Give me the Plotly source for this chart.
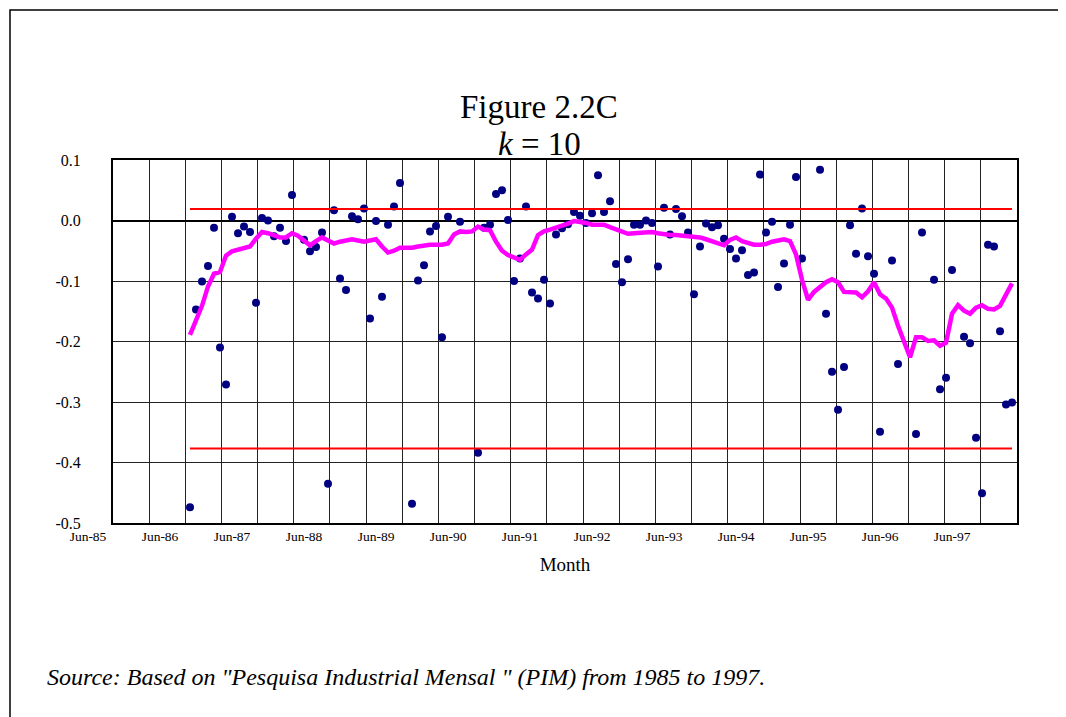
import plotly.graph_objects as go

# ---------------- data ----------------
first_month = 17  # month index counted from Jun-85 (0 = Jun-85)

dot_values = [
    -0.474, -0.147, -0.101, -0.075, -0.012, -0.210, -0.271, 0.006, -0.021, -0.010,
    -0.019, -0.136, 0.004, 0.000, -0.026, -0.012, -0.034, 0.042, None, -0.032,
    -0.051, -0.044, -0.020, -0.435, 0.017, -0.096, -0.115, 0.007, 0.002, 0.020,
    -0.162, -0.001, -0.126, -0.007, 0.023, 0.062, None, -0.468, -0.099, -0.074,
    -0.018, -0.009, -0.193, 0.006, None, -0.002, None, None, -0.384, -0.012,
    -0.007, 0.044, 0.050, 0.001, -0.100, -0.063, 0.023, -0.119, -0.129, -0.098,
    -0.137, -0.023, -0.013, -0.006, 0.014, 0.008, -0.004, 0.012, 0.075, 0.014,
    0.032, -0.072, -0.102, -0.064, -0.007, -0.007, 0.000, -0.004, -0.076, 0.021,
    -0.023, 0.019, 0.007, -0.020, -0.122, -0.043, -0.005, -0.011, -0.008, -0.030,
    -0.047, -0.063, -0.049, -0.090, -0.086, 0.076, -0.020, -0.002, -0.110, -0.071,
    -0.007, 0.072, -0.063, None, None, 0.084, -0.154, -0.250, -0.313, -0.242,
    -0.008, -0.055, 0.020, -0.059, -0.088, -0.349, None, -0.066, -0.237, None,
    None, -0.353, -0.020, None, -0.098, -0.279, -0.260, -0.082, None, -0.192,
    -0.203, -0.359, -0.451, -0.040, -0.043, -0.183, -0.304, -0.301,
]

line_values = [
    -0.189, -0.165, -0.141, -0.109, -0.088, -0.085, -0.058, -0.051, -0.048, -0.045,
    -0.043, -0.030, -0.019, -0.021, -0.025, -0.028, -0.028, -0.021, -0.025, -0.034,
    -0.041, -0.034, -0.028, -0.033, -0.038, -0.035, -0.033, -0.031, -0.033, -0.035,
    -0.033, -0.031, -0.043, -0.053, -0.050, -0.045, -0.045, -0.045, -0.043, -0.041,
    -0.040, -0.040, -0.040, -0.038, -0.023, -0.018, -0.019, -0.018, -0.010, -0.015,
    -0.016, -0.035, -0.050, -0.057, -0.062, -0.065, -0.056, -0.048, -0.024, -0.018,
    -0.015, -0.012, -0.008, -0.005, -0.001, -0.002, -0.004, -0.007, -0.007, -0.007,
    -0.011, -0.015, -0.018, -0.022, -0.021, -0.020, -0.019, -0.019, -0.021, -0.023,
    -0.024, -0.024, -0.025, -0.026, -0.026, -0.028, -0.031, -0.035, -0.038, -0.041,
    -0.032, -0.028, -0.034, -0.038, -0.040, -0.040, -0.039, -0.035, -0.033, -0.031,
    -0.034, -0.056, -0.098, -0.131, -0.118, -0.109, -0.102, -0.097, -0.102, -0.118,
    -0.118, -0.119, -0.127, -0.117, -0.102, -0.122, -0.129, -0.144, -0.174, -0.202,
    -0.226, -0.193, -0.193, -0.199, -0.198, -0.207, -0.202, -0.154, -0.140, -0.149,
    -0.154, -0.144, -0.140, -0.146, -0.147, -0.141, -0.122, -0.104,
]

months = list(range(first_month, first_month + len(line_values)))

upper_limit = 0.019
lower_limit = -0.377

x_tick_labels = ["Jun-85", "Jun-86", "Jun-87", "Jun-88", "Jun-89", "Jun-90", "Jun-91",
                 "Jun-92", "Jun-93", "Jun-94", "Jun-95", "Jun-96", "Jun-97"]
y_tick_values = [0.1, 0.0, -0.1, -0.2, -0.3, -0.4, -0.5]
y_tick_labels = ["0.1", "0.0", "-0.1", "-0.2", "-0.3", "-0.4", "-0.5"]

title_line1 = "Figure 2.2C"
title_line2 = "<i>k</i> = 10"
x_title = "Month"
source_text = "Source: Based on \"Pesquisa Industrial Mensal \" (PIM) from 1985 to 1997."

# ---------------- layout geometry ----------------
PAGE_OFF = 8            # default body margin of the html page
W, H = 1058, 709        # figure size so that it fits the 1066x717 window
ML, MR, MT, MB = 105, 49, 152, 194
x_range = [4.167, 154.83]
plot_w = W - ML - MR
plot_h = H - MT - MB
px_per_month = plot_w / (x_range[1] - x_range[0])


def px_x(p):
    """page pixel x -> paper fraction"""
    return (p - PAGE_OFF - ML) / plot_w


def px_y(p):
    """page pixel y -> paper fraction"""
    return (H - MB - (p - PAGE_OFF)) / plot_h


FONT = "Liberation Serif, Times New Roman, serif"

fig = go.Figure()

fig.add_trace(go.Scatter(
    x=months, y=dot_values, mode="markers",
    marker=dict(color="#000080", size=8, line=dict(width=0)),
    showlegend=False, cliponaxis=False,
))
for lim in (upper_limit, lower_limit):
    fig.add_trace(go.Scatter(
        x=[months[0], months[-1]], y=[lim, lim], mode="lines",
        line=dict(color="#FF0000", width=2), showlegend=False,
    ))
fig.add_trace(go.Scatter(
    x=months, y=line_values, mode="lines",
    line=dict(color="#FF00FF", width=4.5), showlegend=False,
))

fig.update_layout(
    width=W, height=H,
    margin=dict(l=ML, r=MR, t=MT, b=MB, pad=0),
    paper_bgcolor="white", plot_bgcolor="white",
    font=dict(family=FONT, color="black"),
    showlegend=False,
    xaxis=dict(
        range=x_range, showgrid=False, zeroline=False,
        tickmode="array",
        tickvals=[12 * i + 6 for i in range(len(x_tick_labels))],
        ticktext=x_tick_labels,
        ticklabelshift=int(round(-6 * px_per_month)),
        ticks="", tickfont=dict(size=13.5, family=FONT),
        showline=True, linecolor="black", linewidth=2, mirror=True,
        minor=dict(tickmode="linear", tick0=x_range[0], dtick=36.16 / px_per_month,
                   showgrid=True, gridcolor="#222", gridwidth=1, ticks=""),
        title=dict(text=x_title, font=dict(size=19, family=FONT), standoff=14),
    ),
    yaxis=dict(
        range=[-0.5, 0.1], tickmode="array", tickvals=y_tick_values, ticktext=y_tick_labels,
        showgrid=True, gridcolor="#222", gridwidth=1,
        zeroline=True, zerolinecolor="black", zerolinewidth=2,
        ticks="", ticklabelstandoff=27, tickfont=dict(size=16, family=FONT),
        showline=True, linecolor="black", linewidth=2, mirror=True,
    ),
    shapes=[dict(type="rect", xref="paper", yref="paper",
                 x0=px_x(10), x1=px_x(1062), y0=px_y(740), y1=px_y(10),
                 line=dict(color="black", width=1.5), layer="below")],
    annotations=[
        dict(text=title_line1, xref="paper", yref="paper", x=px_x(539), y=px_y(107),
             showarrow=False, xanchor="center", yanchor="middle",
             font=dict(size=33, family=FONT)),
        dict(text=title_line2, xref="paper", yref="paper", x=px_x(539), y=px_y(144),
             showarrow=False, xanchor="center", yanchor="middle",
             font=dict(size=33, family=FONT)),
        dict(text="<i>" + source_text + "</i>", xref="paper", yref="paper",
             x=px_x(45), y=px_y(677), showarrow=False, xanchor="left", yanchor="middle",
             font=dict(size=24, family=FONT)),
    ],
)

fig.write_html("out.html")
